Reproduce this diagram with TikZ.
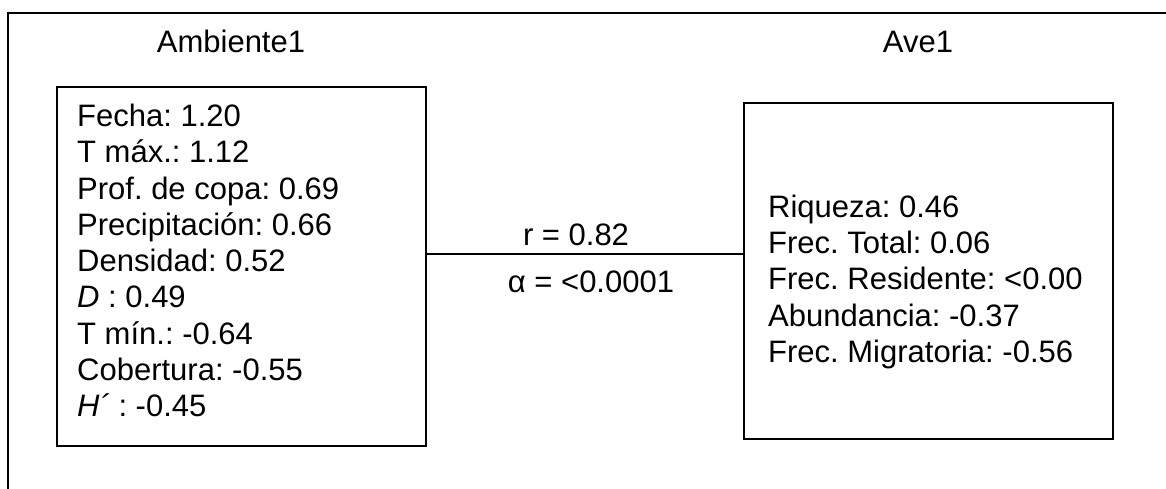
\documentclass[tikz,border=0pt]{standalone}
\usepackage{fontspec}
\setmainfont{Liberation Sans}
\frenchspacing
\begin{document}
\begin{tikzpicture}[x=1pt,y=-1pt,
  txt/.style={inner sep=0pt,anchor=base west,font=\fontsize{31}{36.3}\selectfont},
  ctxt/.style={inner sep=0pt,anchor=base,font=\fontsize{31}{36.3}\selectfont},
  frameline/.style={line width=2pt},
  boxline/.style={draw,line width=2pt,inner sep=0pt}]
\useasboundingbox (0,0) rectangle (1166,489);
% outer frame (left and top only)
\draw[frameline] (8,489) -- (8,13) -- (1166,13);
% titles
\node[ctxt] (t1) at (231,53) {Ambiente1};
\node[ctxt] (t2) at (918,53) {Ave1};
% boxes
\node[boxline,minimum width=369pt,minimum height=359pt] (amb) at (241.5,266.5) {};
\node[boxline,minimum width=369pt,minimum height=336pt] (ave) at (928.5,271) {};
% left box lines
\foreach \t [count=\i] in {Fecha: 1.20,T máx.: 1.12,Prof. de copa: 0.69,Precipitación: 0.66,Densidad: 0.52,{\textit{D} : 0.49},T mín.: -0.64,Cobertura: -0.55,{\textit{H´} : -0.45}}
  \node[txt] (a\i) at (77,{126.4+(\i-1)*36.3}) {\t};
% right box lines
\foreach \t [count=\i] in {Riqueza: 0.46,Frec. Total: 0.06,Frec. Residente: <0.00,Abundancia: -0.37,Frec. Migratoria: -0.56}
  \node[txt] (b\i) at (768,{217.3+(\i-1)*36.3}) {\t};
% connector
\coordinate (cy) at (0,254);
\draw[line width=1.5pt] (amb.east |- cy) -- (ave.west |- cy);
\node[ctxt] (r) at (576,245) {r = 0.82};
\node[ctxt] (al) at (591,292.7) {α = <0.0001};
\end{tikzpicture}
\end{document}
